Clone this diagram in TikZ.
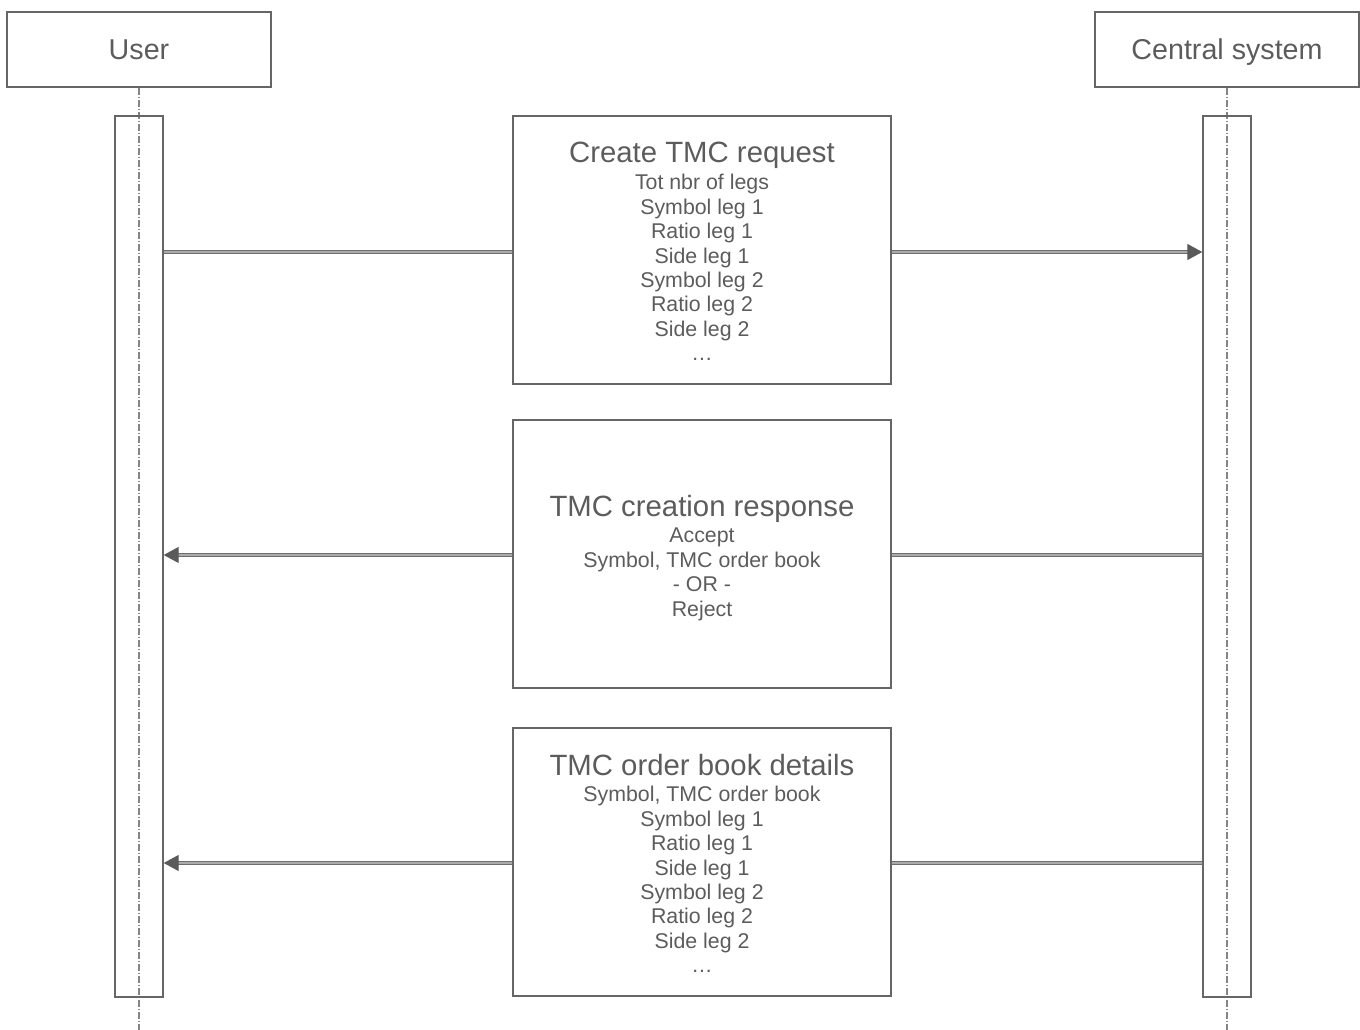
\documentclass[tikz,border=0pt]{standalone}
\usepackage{fontspec}
\setmainfont{Liberation Sans}
\usetikzlibrary{arrows.meta}
\definecolor{txt}{HTML}{5C5C5C}
\definecolor{edge}{HTML}{666666}
\definecolor{arr}{HTML}{6E6E6E}
\definecolor{arrin}{HTML}{ABABAB}
\definecolor{tip}{HTML}{5A5A5A}
\newcommand\msgtitlefont{\fontsize{22pt}{22pt}\selectfont}
\tikzset{
  actor/.style={draw=edge, line width=1.05pt, minimum width=198pt, minimum height=56.25pt, inner sep=0pt, text=txt, text height=20pt, text depth=4.5pt, font=\fontsize{21.5pt}{24pt}\selectfont},
  bar/.style={draw=edge, line width=1.05pt, minimum width=36pt, minimum height=660.75pt, inner sep=0pt},
  msg/.style={draw=edge, line width=1.05pt, minimum width=283.5pt, minimum height=201pt, inner sep=0pt},
  msgtext/.style={text=txt, align=center, anchor=north, inner sep=0pt, font=\fontsize{16pt}{18.3pt}\selectfont},
  life/.style={draw=edge!80, line width=0.9pt, dash pattern=on 5.25pt off 1.5pt on 0.75pt off 1.5pt},
  conn/.style={draw=arr, line width=0.9pt, double=arrin, double distance=1.8pt},
  conntip/.style={conn, -{Triangle[length=11.25pt,width=12pt,color=tip,fill=tip]}}
}
\begin{document}
\begin{tikzpicture}[x=0.75pt,y=-0.75pt]
\useasboundingbox (0,0) rectangle (1360,1030);
% actors
\node[actor] (user) at (139,49.5) {User};
\node[actor] (cs) at (1227,49.5) {Central system};
% lifelines
\coordinate (ubot) at (139,1030);
\coordinate (cbot) at (1227,1030);
\draw[life] (user.south) -- (ubot);
\draw[life] (cs.south) -- (cbot);
% activation bars
\node[bar] (ubar) at (139,556.5) {};
\node[bar] (cbar) at (1227,556.5) {};
% messages
\node[msg] (m1) at (702,250) {};
\node[msgtext] (t1) at (702,141.5) {{\msgtitlefont Create TMC request}\\[2.5pt]Tot nbr of legs\\Symbol leg 1\\Ratio leg 1\\Side leg 1\\Symbol leg 2\\Ratio leg 2\\Side leg 2\\…};
\node[msg] (m2) at (702,554) {};
\node[msgtext] (t2) at (702,495) {{\msgtitlefont TMC creation response}\\[1.5pt]Accept\\Symbol, TMC order book\\- OR -\\Reject};
\node[msg] (m3) at (702,862) {};
\node[msgtext] (t3) at (702,754) {{\msgtitlefont TMC order book details}\\[1.5pt]Symbol, TMC order book\\Symbol leg 1\\Ratio leg 1\\Side leg 1\\Symbol leg 2\\Ratio leg 2\\Side leg 2\\…};
% connectors
\coordinate (a1) at (139,252);
\coordinate (a2) at (139,555);
\coordinate (a3) at (139,863);
\draw[conn] (ubar.east |- a1) -- (m1.west |- a1);
\draw[conntip] (m1.east |- a1) -- (cbar.west |- a1);
\draw[conn] (cbar.west |- a2) -- (m2.east |- a2);
\draw[conntip] (m2.west |- a2) -- (ubar.east |- a2);
\draw[conn] (cbar.west |- a3) -- (m3.east |- a3);
\draw[conntip] (m3.west |- a3) -- (ubar.east |- a3);
\end{tikzpicture}
\end{document}
